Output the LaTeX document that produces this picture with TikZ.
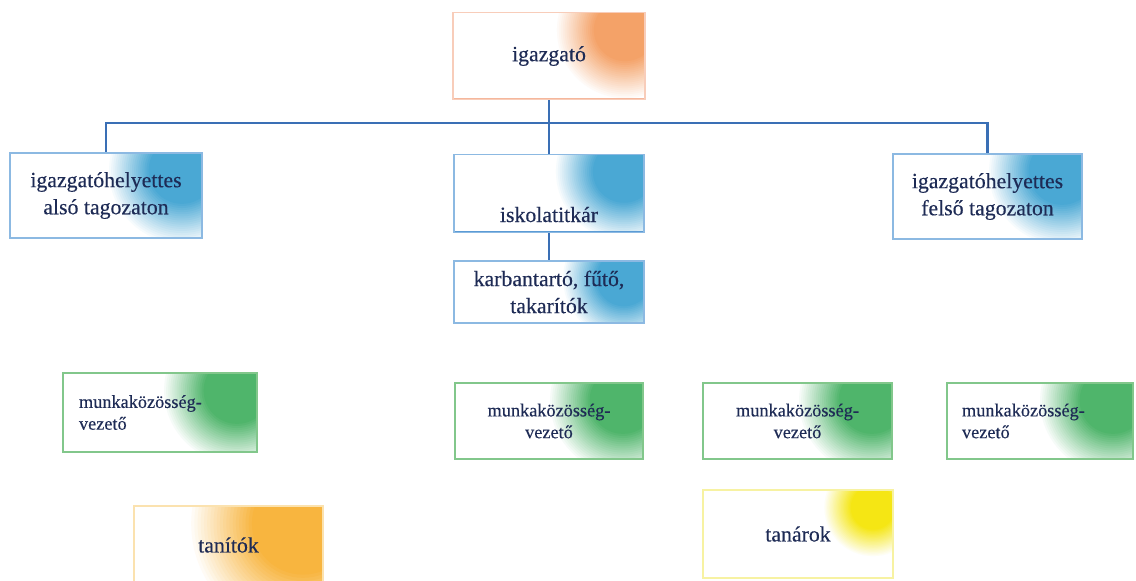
\documentclass[tikz,border=0pt]{standalone}
\usepackage{fontspec}
\setmainfont{Liberation Serif}
\newfontfamily\heavyserif{Liberation Serif}[FakeBold=0.3]
\usetikzlibrary{calc}

\definecolor{navy}{HTML}{1E2B55}
\definecolor{linkblue}{HTML}{3A6FB5}
\definecolor{salmonline}{HTML}{F5B79C}
\definecolor{orangeblob}{HTML}{F39A5B}
\definecolor{blueline}{HTML}{5B9BD5}
\definecolor{blueblob}{HTML}{3AA0D0}
\definecolor{greenline}{HTML}{4CAF5A}
\definecolor{greenblob}{HTML}{40AE5E}
\definecolor{amberline}{HTML}{FAD58C}
\definecolor{amberblob}{HTML}{F7AE2E}
\definecolor{lemonline}{HTML}{F3EC7A}
\definecolor{lemonblob}{HTML}{F4E400}

\newcommand{\boxfont}{\heavyserif\fontsize{12.4}{15.4}\selectfont}
\newcommand{\notefont}{\heavyserif\fontsize{10.4}{12.4}\selectfont}

\tikzset{
  tile/.style n args={3}{draw=#1!70, line width=0.6pt, text=navy, align=center,
    minimum width=3.8cm, font=\boxfont,
    path picture={
      % soft colour spot in the corner, as rings fading to white
      \coordinate (spot) at ([shift={(-0.4,-0.35)}]path picture bounding box.north east);
      \foreach \k in {36,35,...,1} {
        \pgfmathsetmacro\pct{min(92,(36-\k)*4.6)}
        \fill[#2!\pct!white] (spot) circle ({#3*\k/36});
      }
      \draw[#1, line width=1.6pt] (path picture bounding box.north west)
        -- (path picture bounding box.south west) -- (path picture bounding box.south east);
    }},
  link/.style={draw=linkblue, line width=1.2pt}
}

\begin{document}
\begin{tikzpicture}
% page size of the chart
\useasboundingbox (0,0) rectangle (22.72,-11.6);

% top row
\node[tile={salmonline}{orangeblob}{1.4}, minimum width=3.84cm, minimum height=1.74cm] (igazgato) at (10.98,-1.12) {igazgató};

% second row
\node[tile={blueline}{blueblob}{1.5}, minimum width=3.84cm, minimum height=1.70cm] (also) at (2.12,-3.91) {igazgatóhelyettes\\alsó tagozaton};
\node[tile={blueline}{blueblob}{1.4}, minimum height=1.54cm, text height=1.24cm, text depth=0.1cm] (titkar) at (10.98,-3.87) {iskolatitkár};
\node[tile={blueline}{blueblob}{1.5}, minimum width=3.78cm, minimum height=1.70cm] (felso) at (19.75,-3.93) {igazgatóhelyettes\\felső tagozaton};
\node[tile={blueline}{blueblob}{1.25}, minimum height=1.24cm] (karban) at (10.98,-5.84) {karbantartó, fűtő,\\takarítók};

% munkakozosseg row
\node[tile={greenline}{greenblob}{1.5}, minimum width=3.88cm, minimum height=1.58cm, font=\notefont, text width=3.24cm, align=left] (munka1) at (3.2,-8.25) {munkaközösség-\\vezető};
\node[tile={greenline}{greenblob}{1.5}, minimum width=3.76cm, minimum height=1.52cm, font=\notefont] (munka2) at (10.98,-8.42) {munkaközösség-\\vezető};
\node[tile={greenline}{greenblob}{1.5}, minimum width=3.78cm, minimum height=1.52cm, font=\notefont] (munka3) at (15.95,-8.42) {munkaközösség-\\vezető};
\node[tile={greenline}{greenblob}{1.5}, minimum width=3.72cm, minimum height=1.52cm, font=\notefont, text width=3.12cm, align=left] (munka4) at (20.8,-8.42) {munkaközösség-\\vezető};

% bottom row
\node[tile={amberline}{amberblob}{2.3}, minimum width=3.78cm, minimum height=1.56cm] (tanitok) at (4.57,-10.9) {tanítók};
\node[tile={lemonline}{lemonblob}{1.0}, minimum height=1.76cm] (tanarok) at (15.96,-10.68) {tanárok};

% connectors
\coordinate (bus) at ($(igazgato.south)+(0,-0.46)$);
\draw[link] (igazgato.south) -- (bus);
\draw[link] (bus) -| (also.north);
\draw[link] (bus) -| (felso.north);
\draw[link] (bus) -- (titkar.north);
\draw[link] (titkar.south) -- (karban.north);
\end{tikzpicture}
\end{document}
